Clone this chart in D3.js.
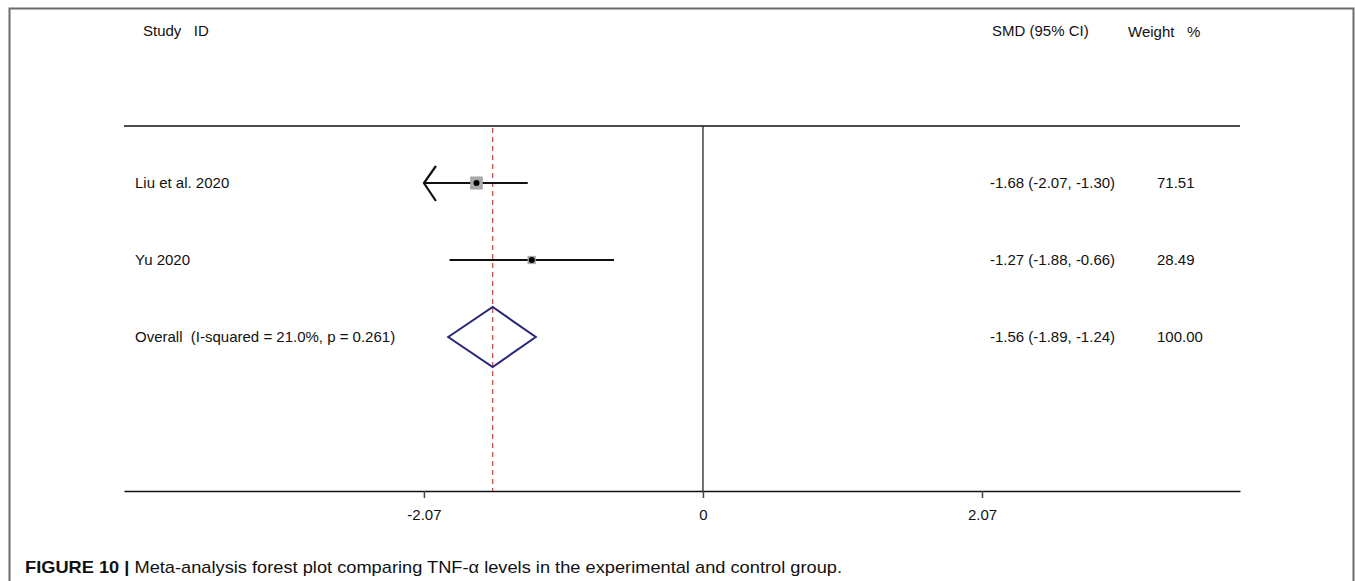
<!DOCTYPE html>
<html>
<head>
<meta charset="utf-8">
<script src="https://cdn.jsdelivr.net/npm/d3@7"></script>
<style>
  body { margin: 0; background: #fff; }
  text { font-family: "Liberation Sans", Arial, sans-serif; fill: #111; }
</style>
</head>
<body>
<svg id="forest" width="1355" height="581"></svg>
<script>
// study data
const studies = ["Liu et al. 2020", "Yu 2020"];
const smd = [-1.68, -1.27];
const ciLow = [-2.07, -1.88];
const ciHigh = [-1.30, -0.66];
const weights = [71.51, 28.49];

// pooled estimate
const overallLabel = "Overall  (I-squared = 21.0%, p = 0.261)";
const overall = {es: -1.56, lo: -1.89, hi: -1.24, w: 100.00};

const tickVals = [-2.07, 0, 2.07];
const tickLabels = ["-2.07", "0", "2.07"];

const fs = 15;
const svg = d3.select('#forest');

// figure frame (the panel border)
svg.append('path')
  .attr('d', 'M9.5,581 V8.5 H1353.5 V581')
  .attr('fill', 'none').attr('stroke', '#6b6b6b').attr('stroke-width', 2);

const plotTop = 126, plotBottom = 491;

const x = d3.scaleLinear().domain([-4.295, 3.984]).range([124, 1240]);
const rows = studies.concat([overallLabel]);
const y = d3.scalePoint().domain(rows).range([183, 337]);

// top rule and axis
svg.append('line')
  .attr('x1', x.range()[0]).attr('x2', x.range()[1])
  .attr('y1', plotTop).attr('y2', plotTop)
  .attr('stroke', '#111').attr('stroke-width', 1.5);

const xAxis = svg.append('g')
  .attr('transform', `translate(0, ${plotBottom})`)
  .call(d3.axisBottom(x).tickValues(tickVals)
    .tickFormat((d, i) => tickLabels[i]).tickSize(7).tickSizeOuter(0).tickPadding(11));
xAxis.select('.domain').attr('stroke', '#111').attr('stroke-width', 1.5);
xAxis.selectAll('.tick line').attr('stroke', '#444').attr('stroke-width', 1.5);
xAxis.selectAll('.tick text')
  .attr('font-size', fs).attr('font-family', '"Liberation Sans", Arial, sans-serif').attr('fill', '#111');

// null line
svg.append('line')
  .attr('x1', x(0)).attr('x2', x(0))
  .attr('y1', plotTop).attr('y2', plotBottom)
  .attr('stroke', '#111').attr('stroke-width', 1.2);

// pooled estimate dashed line
svg.append('line')
  .attr('x1', x(overall.es)).attr('x2', x(overall.es))
  .attr('y1', plotTop + 2).attr('y2', plotBottom)
  .attr('stroke', '#b83232').attr('stroke-width', 1.1)
  .attr('stroke-dasharray', '5,4');

// headers
svg.append('text').attr('x', 143).attr('y', 36).attr('font-size', fs).text('Study   ID').attr('xml:space', 'preserve');
svg.append('text').attr('x', 992).attr('y', 36).attr('font-size', fs).text('SMD (95% CI)');
svg.append('text').attr('x', 1128).attr('y', 37).attr('font-size', fs).text('Weight   %').attr('xml:space', 'preserve');

// study rows
studies.forEach((s, i) => {
  const cy = y(s);
  const loClip = Math.max(ciLow[i], -2.07);
  svg.append('line')
    .attr('x1', x(loClip)).attr('x2', x(ciHigh[i]))
    .attr('y1', cy).attr('y2', cy)
    .attr('stroke', '#111').attr('stroke-width', 2.2);

  // Liu's CI runs off the left end, drawn as an arrow
  if (i === 0) {
    svg.append('path')
      .attr('d', `M${x(loClip) + 12},${cy - 17} L${x(loClip)},${cy} L${x(loClip) + 12},${cy + 18}`)
      .attr('fill', 'none').attr('stroke', '#111').attr('stroke-width', 2.2);
  }

  const sz = Math.sqrt(weights[i]) * 1.45;
  svg.append('rect')
    .attr('x', x(smd[i]) - sz / 2).attr('y', cy - sz / 2)
    .attr('width', sz).attr('height', sz)
    .attr('fill', '#a9a9a9').attr('stroke', '#999').attr('stroke-width', 0.5);
  svg.append('circle')
    .attr('cx', x(smd[i])).attr('cy', cy).attr('r', 3)
    .attr('fill', '#000');

  svg.append('text').attr('x', 135).attr('y', cy + 5).attr('font-size', fs).text(s);
  svg.append('text').attr('x', 990).attr('y', cy + 5).attr('font-size', fs)
    .text(`${smd[i].toFixed(2)} (${ciLow[i].toFixed(2)}, ${ciHigh[i].toFixed(2)})`);
  svg.append('text').attr('x', 1157).attr('y', cy + 5).attr('font-size', fs).text(weights[i].toFixed(2));
});

// overall diamond
const oy = y(overallLabel);
svg.append('path')
  .attr('d', `M${x(overall.lo)},${oy} L${x(overall.es)},${oy - 30} L${x(overall.hi)},${oy} L${x(overall.es)},${oy + 30} Z`)
  .attr('fill', 'none').attr('stroke', '#26267a').attr('stroke-width', 2);
svg.append('text').attr('x', 135).attr('y', oy + 5).attr('font-size', fs)
  .attr('xml:space', 'preserve').text(overallLabel);
svg.append('text').attr('x', 990).attr('y', oy + 5).attr('font-size', fs)
  .text(`${overall.es.toFixed(2)} (${overall.lo.toFixed(2)}, ${overall.hi.toFixed(2)})`);
svg.append('text').attr('x', 1157).attr('y', oy + 5).attr('font-size', fs).text(overall.w.toFixed(2));

// caption
const cap = svg.append('text').attr('x', 25).attr('y', 573).attr('font-size', 17);
cap.append('tspan').attr('font-weight', 'bold').text('FIGURE 10 | ');
cap.append('tspan').text('Meta-analysis forest plot comparing TNF-α levels in the experimental and control group.');
cap.attr('textLength', 842 - 25).attr('lengthAdjust', 'spacingAndGlyphs');
</script>
</body>
</html>
